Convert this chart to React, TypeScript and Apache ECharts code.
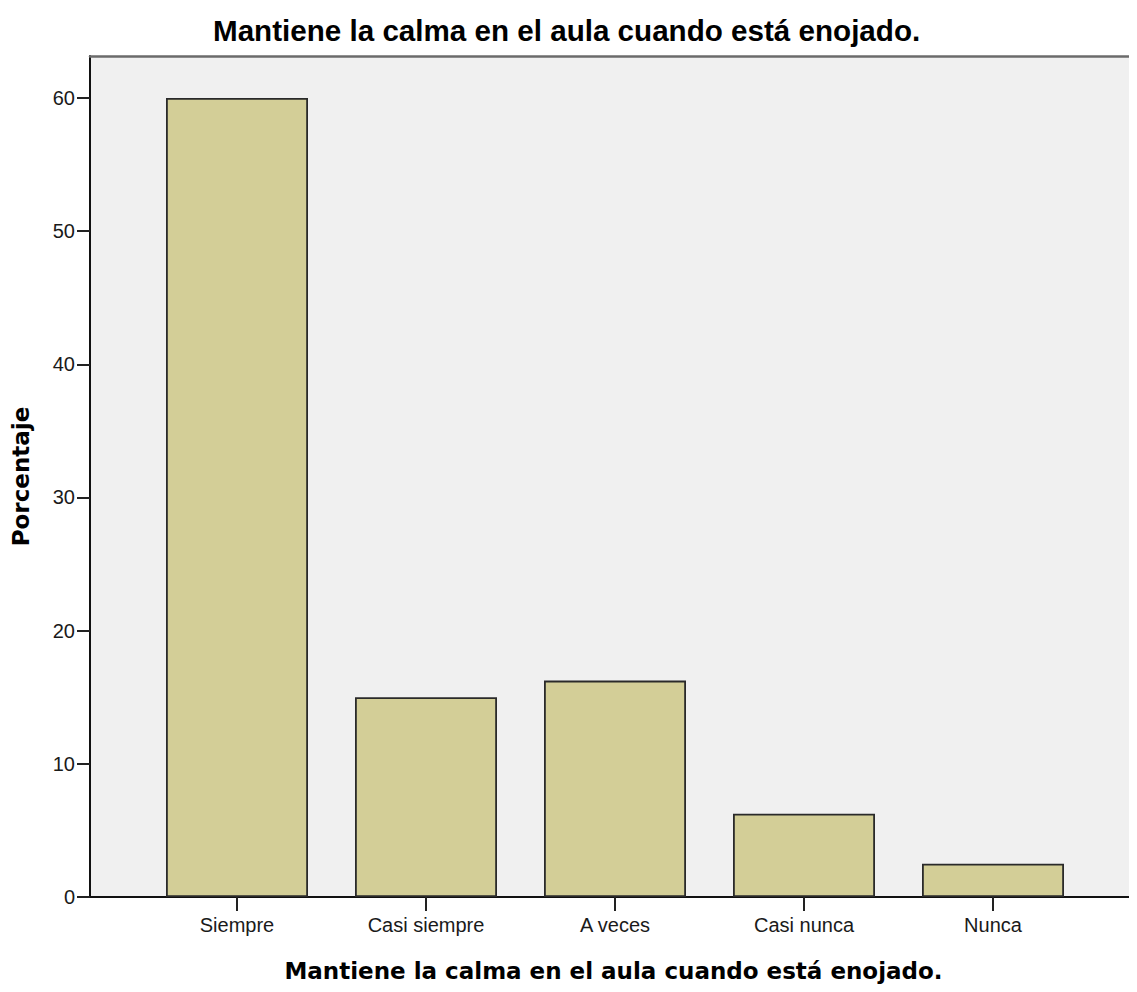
import React, { useEffect, useRef } from "react";
import * as echarts from "echarts";

const titleText = "Mantiene la calma en el aula cuando está enojado.";
const xAxisTitle = "Mantiene la calma en el aula cuando está enojado.";
const yAxisTitle = "Porcentaje";
const categories = ["Siempre", "Casi siempre", "A veces", "Casi nunca", "Nunca"];
const percentages = [60, 15, 16.25, 6.25, 2.5];
const yTicks = [0, 10, 20, 30, 40, 50, 60];

export default function App() {
  const ref = useRef<HTMLDivElement | null>(null);

  useEffect(() => {
    if (!ref.current) return;
    const chart = echarts.init(ref.current, undefined, { renderer: "svg" });
    const catIdx = categories.map((_, i) => i);
    const xMin = -0.7778;
    const xMax = 4.7619;
    const option = {
      animation: false,
      backgroundColor: "#ffffff",
      title: {
        text: titleText,
        left: 208,
        top: 10,
        textStyle: {
          fontFamily: "'Liberation Sans', Arial, sans-serif",
          fontWeight: "bold",
          fontSize: 29.6,
          color: "#000000",
        },
      },
      grid: {
        left: 90,
        right: 0,
        top: 56,
        bottom: 95,
        show: true,
        backgroundColor: "#f0f0f0",
        borderWidth: 0,
      },
      xAxis: [
        {
          type: "value",
          min: xMin,
          max: xMax,
          position: "bottom",
          splitLine: { show: false },
          axisLine: { show: true, onZero: false, lineStyle: { color: "#111111", width: 2 } },
          axisTick: {
            show: true,
            length: 14,
            customValues: catIdx,
            lineStyle: { color: "#222222", width: 2 },
          },
          axisLabel: {
            customValues: catIdx,
            formatter: (v: number) => categories[Math.round(v)] ?? "",
            fontFamily: "'Liberation Sans', Arial, sans-serif",
            fontSize: 20,
            color: "#1a1a1a",
            margin: 18,
          },
          name: xAxisTitle,
          nameLocation: "middle",
          nameGap: 62,
          nameTextStyle: {
            fontFamily: "'DejaVu Sans', sans-serif",
            fontWeight: "bold",
            fontSize: 23,
            color: "#000000",
          },
        },
        {
          type: "value",
          min: xMin,
          max: xMax,
          position: "top",
          splitLine: { show: false },
          axisLine: { show: true, onZero: false, lineStyle: { color: "#6b6b6b", width: 2.5 } },
          axisTick: { show: false },
          axisLabel: { show: false },
        },
      ],
      yAxis: {
        type: "value",
        min: 0,
        max: 63.15,
        splitLine: { show: false },
        axisLine: { show: true, onZero: false, lineStyle: { color: "#111111", width: 2 } },
        axisTick: {
          show: true,
          length: 13,
          customValues: yTicks,
          lineStyle: { color: "#222222", width: 2 },
        },
        axisLabel: {
          customValues: yTicks,
          fontFamily: "'Liberation Sans', Arial, sans-serif",
          fontSize: 20,
          color: "#1a1a1a",
          margin: 15,
          padding: [6, 0, 0, 0],
        },
        name: yAxisTitle,
        nameLocation: "middle",
        nameGap: 58,
        nameTextStyle: {
          fontFamily: "'DejaVu Sans', sans-serif",
          fontWeight: "bold",
          fontSize: 23,
          color: "#000000",
        },
      },
      series: [
        {
          type: "bar",
          xAxisIndex: 0,
          barWidth: 142,
          data: percentages.map((v, i) => [i, v]),
          itemStyle: {
            color: "#d3ce97",
            borderColor: "#2a2a2a",
            borderWidth: 1.8,
          },
        },
      ],
    };
    chart.setOption(option as any);
    return () => chart.dispose();
  }, []);

  return <div ref={ref} style={{ width: 1137, height: 992, margin: -8 }} />;
}
